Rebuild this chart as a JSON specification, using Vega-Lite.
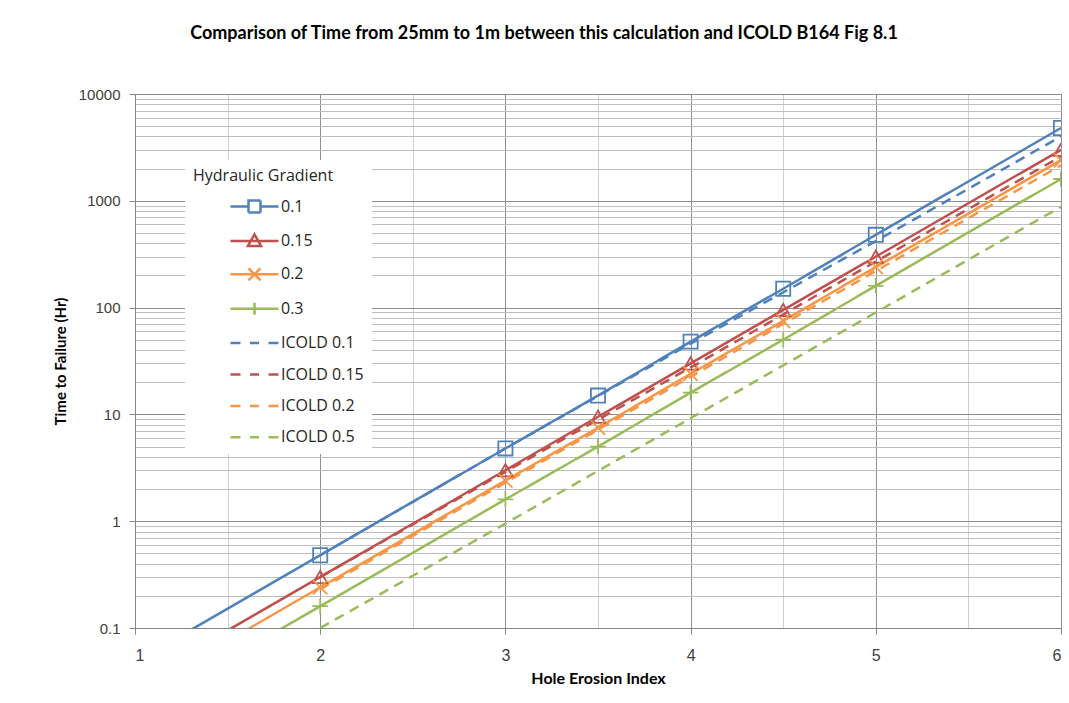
{
  "$schema": "https://vega.github.io/schema/vega-lite/v6.json",
  "width": 926,
  "height": 534,
  "autosize": "none",
  "padding": {"left": 135, "top": 94, "right": 8, "bottom": 75},
  "background": "white",
  "title": {
    "text": "Comparison of Time from 25mm to 1m between this calculation and ICOLD B164 Fig 8.1",
    "font": "Lato",
    "fontSize": 18,
    "fontWeight": "bold",
    "color": "#000000",
    "anchor": "middle",
    "frame": "group",
    "dx": -54,
    "baseline": "alphabetic",
    "offset": 30
  },
  "config": {
    "view": {"stroke": null},
    "axis": {
      "labelFont": "Liberation Sans",
      "labelFontSize": 15,
      "labelColor": "#404040",
      "titleFont": "Lato",
      "titleFontSize": 15,
      "titleFontWeight": "bold",
      "titleColor": "#000000",
      "domainColor": "#868686",
      "tickColor": "#868686",
      "tickSize": 6
    }
  },
  "data": {
    "values": [
      {"hei": 1, "t": 0.048, "s": "0.1"},
      {"hei": 2, "t": 0.48, "s": "0.1"},
      {"hei": 3, "t": 4.8, "s": "0.1"},
      {"hei": 3.5, "t": 15, "s": "0.1"},
      {"hei": 4, "t": 48, "s": "0.1"},
      {"hei": 4.5, "t": 150, "s": "0.1"},
      {"hei": 5, "t": 480, "s": "0.1"},
      {"hei": 6, "t": 4800, "s": "0.1"},
      {"hei": 1, "t": 0.03, "s": "0.15"},
      {"hei": 2, "t": 0.3, "s": "0.15"},
      {"hei": 3, "t": 3, "s": "0.15"},
      {"hei": 3.5, "t": 9.5, "s": "0.15"},
      {"hei": 4, "t": 30, "s": "0.15"},
      {"hei": 4.5, "t": 95, "s": "0.15"},
      {"hei": 5, "t": 300, "s": "0.15"},
      {"hei": 6, "t": 3000, "s": "0.15"},
      {"hei": 1, "t": 0.024, "s": "0.2"},
      {"hei": 2, "t": 0.24, "s": "0.2"},
      {"hei": 3, "t": 2.4, "s": "0.2"},
      {"hei": 3.5, "t": 7.5, "s": "0.2"},
      {"hei": 4, "t": 24, "s": "0.2"},
      {"hei": 4.5, "t": 75, "s": "0.2"},
      {"hei": 5, "t": 240, "s": "0.2"},
      {"hei": 6, "t": 2400, "s": "0.2"},
      {"hei": 1, "t": 0.016, "s": "0.3"},
      {"hei": 2, "t": 0.16, "s": "0.3"},
      {"hei": 3, "t": 1.6, "s": "0.3"},
      {"hei": 3.5, "t": 5, "s": "0.3"},
      {"hei": 4, "t": 16, "s": "0.3"},
      {"hei": 4.5, "t": 50, "s": "0.3"},
      {"hei": 5, "t": 160, "s": "0.3"},
      {"hei": 6, "t": 1600, "s": "0.3"},
      {"hei": 2, "t": 0.48, "s": "ICOLD 0.1"},
      {"hei": 3, "t": 4.8, "s": "ICOLD 0.1"},
      {"hei": 4, "t": 46, "s": "ICOLD 0.1"},
      {"hei": 5, "t": 420, "s": "ICOLD 0.1"},
      {"hei": 6, "t": 4000, "s": "ICOLD 0.1"},
      {"hei": 2, "t": 0.3, "s": "ICOLD 0.15"},
      {"hei": 3, "t": 2.9, "s": "ICOLD 0.15"},
      {"hei": 4, "t": 27.5, "s": "ICOLD 0.15"},
      {"hei": 5, "t": 270, "s": "ICOLD 0.15"},
      {"hei": 6, "t": 2600, "s": "ICOLD 0.15"},
      {"hei": 2, "t": 0.23, "s": "ICOLD 0.2"},
      {"hei": 3, "t": 2.3, "s": "ICOLD 0.2"},
      {"hei": 4, "t": 22.5, "s": "ICOLD 0.2"},
      {"hei": 5, "t": 220, "s": "ICOLD 0.2"},
      {"hei": 6, "t": 2150, "s": "ICOLD 0.2"},
      {"hei": 2, "t": 0.1, "s": "ICOLD 0.5"},
      {"hei": 3, "t": 0.95, "s": "ICOLD 0.5"},
      {"hei": 4, "t": 9.2, "s": "ICOLD 0.5"},
      {"hei": 5, "t": 90, "s": "ICOLD 0.5"},
      {"hei": 6, "t": 880, "s": "ICOLD 0.5"}
    ]
  },
  "encoding": {
    "x": {
      "field": "hei",
      "type": "quantitative",
      "title": "Hole Erosion Index",
      "scale": {"domain": [1, 6], "nice": false, "zero": false},
      "axis": {
        "values": [1, 1.5, 2, 2.5, 3, 3.5, 4, 4.5, 5, 5.5, 6],
        "labelExpr": "datum.value % 1 == 0 ? toString(datum.value) : ''",
        "labelFontSize": 16,
        "labelPadding": 13,
        "titleFontSize": 16,
        "titlePadding": 7,
        "grid": true,
        "gridColor": {"condition": {"test": "datum.value % 1 == 0", "value": "#8e8e8e"}, "value": "#d0d0d0"},
        "tickOpacity": {"condition": {"test": "datum.value % 1 == 0", "value": 1}, "value": 0}
      }
    },
    "y": {
      "field": "t",
      "type": "quantitative",
      "title": "Time to Failure (Hr)",
      "scale": {"type": "log", "domain": [0.1, 10000], "nice": false},
      "axis": {
        "values": [0.1, 0.2, 0.3, 0.4, 0.5, 0.6, 0.7, 0.8, 0.9, 1, 2, 3, 4, 5, 6, 7, 8, 9, 10, 20, 30, 40, 50, 60, 70, 80, 90, 100, 200, 300, 400, 500, 600, 700, 800, 900, 1000, 2000, 3000, 4000, 5000, 6000, 7000, 8000, 9000, 10000],
        "labelExpr": "abs(log(datum.value)/LN10 - round(log(datum.value)/LN10)) < 0.000001 ? toString(datum.value) : ''",
        "labelPadding": 9,
        "titlePadding": 10,
        "grid": true,
        "gridColor": {"condition": {"test": "abs(log(datum.value)/LN10 - round(log(datum.value)/LN10)) < 0.000001", "value": "#8e8e8e"}, "value": "#bdbdbd"},
        "tickOpacity": {"condition": {"test": "abs(log(datum.value)/LN10 - round(log(datum.value)/LN10)) < 0.000001", "value": 1}, "value": 0}
      }
    }
  },
  "layer": [
    {
      "mark": {"type": "line", "clip": true, "strokeWidth": 2.5},
      "encoding": {
        "color": {
          "field": "s",
          "type": "nominal",
          "scale": {
            "domain": ["0.1", "0.15", "0.2", "0.3", "ICOLD 0.1", "ICOLD 0.15", "ICOLD 0.2", "ICOLD 0.5"],
            "range": ["#4F81BD", "#C0504D", "#F79646", "#9BBB59", "#4F81BD", "#C0504D", "#F79646", "#9BBB59"]
          },
          "legend": {
            "title": "Hydraulic Gradient",
            "orient": "none",
            "legendX": 50,
            "legendY": 66,
            "fillColor": "white",
            "padding": 8,
            "titleFont": "Open Sans",
            "titleFontSize": 16,
            "titleFontWeight": "normal",
            "titleColor": "#262626",
            "titlePadding": 11,
            "labelFont": "Open Sans",
            "labelFontSize": 16,
            "labelColor": "#262626",
            "labelOffset": 65,
            "symbolSize": 400,
            "rowPadding": 11.4,
            "encode": {
              "symbols": {
                "update": {
                  "shape": {"signal": "datum.value == '0.1' ? 'M2.6,0H4.4M5.6,0H7.4M4.4,-0.6H5.6V0.6H4.4Z' : datum.value == '0.15' ? 'M2.6,0H7.4M5,-0.65L5.65,0.5H4.35Z' : datum.value == '0.2' ? 'M2.6,0H7.4M4.4,-0.6L5.6,0.6M4.4,0.6L5.6,-0.6' : datum.value == '0.3' ? 'M2.6,0H7.4M5,-0.6V0.6' : 'M2.6,0H3.6M4.55,0H5.45M6.4,0H7.4'"},
                  "strokeDash": {"value": [1, 0]},
                  "strokeWidth": {"value": 2.5},
                  "fill": {"value": "transparent"},
                  "opacity": {"value": 1}
                }
              }
            }
          }
        },
        "strokeDash": {
          "field": "s",
          "type": "nominal",
          "scale": {
            "domain": ["0.1", "0.15", "0.2", "0.3", "ICOLD 0.1", "ICOLD 0.15", "ICOLD 0.2", "ICOLD 0.5"],
            "range": [[1, 0], [1, 0], [1, 0], [1, 0], [10, 7], [10, 7], [10, 7], [10, 7]]
          },
          "legend": null
        }
      }
    },
    {
      "transform": [{"filter": "indexof(['0.1','0.15','0.2','0.3'], datum.s) >= 0"}],
      "mark": {"type": "point", "clip": true, "filled": false, "size": 200, "strokeWidth": 1.8, "opacity": 1},
      "encoding": {
        "color": {"field": "s", "type": "nominal", "legend": null},
        "shape": {
          "field": "s",
          "type": "nominal",
          "scale": {
            "domain": ["0.1", "0.15", "0.2", "0.3"],
            "range": ["square", "triangle-up", "M-1,-1L1,1M-1,1L1,-1", "M-1.1,0H1.1M0,-1.1V1.1"]
          },
          "legend": null
        }
      }
    }
  ]
}
